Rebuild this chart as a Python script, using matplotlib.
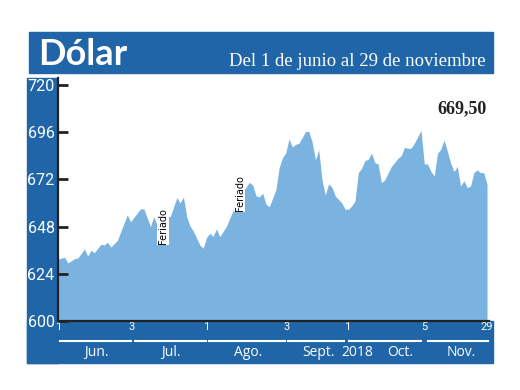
import matplotlib
matplotlib.use('Agg')
import matplotlib.pyplot as plt
import matplotlib.patches as mpatches
import matplotlib.transforms as mtransforms

# trading-day index (1 jun = 0 ... 29 nov = 130) and dollar value
days = [0, 2, 3, 5, 6, 8, 9, 10, 11, 13, 14, 15, 16, 18, 21, 22, 25, 26, 28, 29,
        30, 31, 32, 33, 34, 36, 37, 38, 39, 40, 41, 43, 44, 45, 46, 47, 48, 49, 51, 54,
        55, 56, 58, 59, 60, 61, 62, 63, 64, 66, 67, 68, 69, 70, 71, 72, 73, 75, 76, 77,
        78, 79, 80, 81, 82, 83, 84, 86, 87, 88, 89, 90, 91, 92, 93, 94, 95, 96, 97, 98,
        99, 101, 103, 104, 105, 106, 107, 108, 110, 111, 112, 113, 114, 115, 116, 117, 119, 120, 121, 122,
        123, 124, 125, 126, 127, 128, 129, 130]
values = [631.5, 632.4, 629.5, 631.7, 632.0, 636.6, 633.0, 636.0, 634.7, 639.0, 638.6, 640.0, 637.6, 641.0, 654.0, 650.5, 657.0, 657.0, 648.0, 653.0,
          649.0, 651.0, 651.0, 653.4, 653.0, 662.7, 660.0, 663.0, 653.0, 648.3, 645.7, 638.6, 637.0, 642.4, 644.6, 643.0, 646.8, 642.9, 648.0, 660.0,
          664.0, 665.7, 670.5, 669.0, 663.6, 663.0, 665.0, 659.5, 658.0, 666.6, 677.8, 682.9, 685.4, 692.5, 688.5, 689.8, 690.3, 696.3, 696.3, 691.0,
          681.9, 687.0, 671.7, 664.0, 669.7, 668.0, 663.6, 660.0, 656.8, 656.8, 658.5, 661.0, 675.4, 677.6, 681.5, 682.2, 685.3, 680.5, 679.8, 670.3,
          671.7, 678.5, 682.7, 684.0, 688.3, 687.8, 687.8, 690.4, 696.8, 679.8, 679.8, 676.0, 673.7, 685.3, 687.3, 692.0, 680.2, 676.0, 678.5, 668.6,
          671.3, 667.8, 668.6, 675.4, 676.8, 675.4, 675.4, 669.5]

yticks = [600, 624, 648, 672, 696, 720]
xtick_pos = [0, 22.4, 44.8, 69.4, 87.6, 110.9, 130]
xtick_labels = ['1', '3', '1', '3', '1', '5', '29']

months = ['Jun.', 'Jul.', 'Ago.', 'Sept.', 'Oct.', 'Nov.']
month_start = [0.6, 23.3, 45.8, 69.7, 88.2, 112.1]
month_end = [22.1, 44.8, 68.8, 86.7, 110.0, 130.3]
month_center = [11.5, 34.2, 57.6, 78.8, 103.6, 122.1]
year_label, year_pos = '2018', 90.6

feriados = [31.8, 55.0]
feriado_y = [648, 665]

last_label = '669,50'
title = 'Dólar'
subtitle = 'Del 1 de junio al 29 de noviembre'

blue = '#1f65a8'
fill = '#7bb3e0'
W, H = 520, 390

fig = plt.figure(figsize=(5.2, 3.9), dpi=100)
fig.patch.set_facecolor('white')

def px(x0, y0, x1, y1):
    return [x0 / W, 1 - y1 / H, (x1 - x0) / W, (y1 - y0) / H]

def band(x0, y0, x1, y1):
    r = px(x0, y0, x1, y1)
    fig.patches.append(mpatches.Rectangle((r[0], r[1]), r[2], r[3], transform=fig.transFigure,
                                          color=blue, zorder=-5))

# header banner
band(29, 32, 493, 73)
fig.text(38 / W, 1 - 65 / H, title, color='white', fontsize=26, fontweight='bold',
         family='Lato', va='baseline', ha='left')
fig.text(486 / W, 1 - 66 / H, subtitle, color='white', fontsize=13.5, family='Liberation Serif',
         va='baseline', ha='right')

# left and bottom bands
band(27, 78, 58, 363)
band(27, 321, 493, 363)

ax = fig.add_axes(px(58, 78, 489, 321))
ax.set_facecolor('white')
ax.fill_between(days, values, 600, color=fill, lw=0)
ax.set_xlim(0, 130.6)
ax.set_ylim(600, 723.5)

for s in ['top', 'right']:
    ax.spines[s].set_visible(False)
for s in ['left', 'bottom']:
    ax.spines[s].set_color('#222222')
    ax.spines[s].set_linewidth(1.6)

ax.set_yticks(yticks)
ax.set_yticklabels([str(v) for v in yticks], color='white', fontsize=11.5, family='Roboto')
ax.tick_params(axis='y', direction='in', length=7, width=2, color='#222222', pad=2.5)
ax.set_xticks(xtick_pos)
ax.set_xticklabels(xtick_labels, color='white', fontsize=8, family='Roboto')
ax.tick_params(axis='x', length=0, pad=1)

tr = mtransforms.blended_transform_factory(ax.transData, ax.transAxes)
for m, a, e, c in zip(months, month_start, month_end, month_center):
    ax.plot([a, e], [-0.082, -0.082], color='white', lw=1.5, transform=tr, clip_on=False)
    ax.text(c, -0.13, m, color='white', fontsize=10, family='Open Sans', ha='center',
            va='center', transform=tr, clip_on=False)
ax.text(year_pos, -0.13, year_label, color='white', fontsize=10, family='Open Sans',
        ha='center', va='center', transform=tr, clip_on=False)

for fx, fy in zip(feriados, feriado_y):
    ax.text(fx, fy, 'Feriado', rotation=90, fontsize=7, family='DejaVu Sans', color='black',
            ha='center', va='center',
            bbox=dict(boxstyle='square,pad=0.1', fc='white', ec='none'))

ax.text(days[-1], 708, last_label, fontsize=13, fontweight='bold', family='Liberation Serif',
        ha='right', va='center', color='#222222')

fig.savefig('out.png', dpi=100)
